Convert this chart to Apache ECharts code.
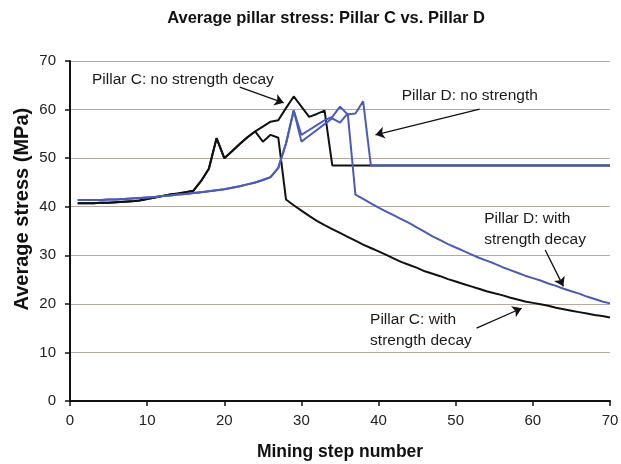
<!DOCTYPE html>
<html>
<head>
<meta charset="utf-8">
<script src="https://cdn.jsdelivr.net/npm/echarts@6/dist/echarts.min.js"></script>
<style>
  html, body { margin: 0; padding: 0; background: #ffffff; }
  #chart { width: 621px; height: 464px; }
</style>
</head>
<body>
<div id="chart"></div>
<script>
// Mining steps (x values)
const steps = [1,2,3,4,5,6,7,8,9,10,11,12,13,14,15,16,17,18,19,20,
  21,22,23,24,25,26,27,28,29,30,31,32,33,34,35,36,37,38,39,40,
  41,42,43,44,45,46,47,48,49,50,51,52,53,54,55,56,57,58,59,60,
  61,62,63,64,65,66,67,68,69,70];

// Pillar C, steps 1-24 (common to both runs)
const pillarCShared = [40.7,40.7,40.7,40.8,40.8,40.9,41.0,41.1,41.3,41.6,41.9,42.2,
  42.5,42.7,43.0,43.3,45.3,47.8,54.1,50.0,51.4,52.9,54.3,55.5];
// Pillar C, steps 25-70, no strength decay
const pillarCNoDecayTail = [56.5,57.5,57.8,60.3,62.7,60.6,58.5,59.1,59.8,
  48.5,48.5,48.5,48.5,48.5,48.5,48.5,48.5,48.5,48.5,48.5,48.5,48.5,48.5,48.5,48.5,
  48.5,48.5,48.5,48.5,48.5,48.5,48.5,48.5,48.5,48.5,48.5,48.5,48.5,48.5,48.5,48.5,
  48.5,48.5,48.5,48.5,48.5];
// Pillar C, steps 25-70, with strength decay
const pillarCDecayTail = [53.4,54.8,54.2,41.5,40.3,39.2,38.1,37.1,36.2,35.4,34.6,33.8,
  33.0,32.2,31.5,30.8,30.1,29.3,28.6,28.0,27.4,26.7,26.2,25.7,25.1,24.6,24.1,23.6,
  23.1,22.6,22.2,21.8,21.3,20.9,20.5,20.2,19.9,19.6,19.2,18.9,18.6,18.3,18.0,17.7,
  17.5,17.2];

// Pillar D, steps 1-29 (common to both runs)
const pillarDShared = [41.4,41.4,41.4,41.4,41.5,41.5,41.6,41.7,41.8,41.9,42.0,42.2,
  42.3,42.5,42.6,42.8,43.0,43.2,43.4,43.6,43.9,44.2,44.6,45.0,45.5,46.1,48.0,53.0,59.8];
// Pillar D, steps 30-70, no strength decay
const pillarDNoDecayTail = [54.8,55.8,56.8,57.8,58.5,60.6,59.0,59.2,61.7,
  48.5,48.5,48.5,48.5,48.5,48.5,48.5,48.5,48.5,48.5,48.5,48.5,48.5,48.5,48.5,48.5,
  48.5,48.5,48.5,48.5,48.5,48.5,48.5,48.5,48.5,48.5,48.5,48.5,48.5,48.5,48.5,48.5];
// Pillar D, steps 30-70, with strength decay
const pillarDDecayTail = [53.4,54.6,55.8,57.0,58.2,57.3,59.2,
  42.5,41.6,40.7,39.8,39.0,38.2,37.4,36.6,35.7,34.8,
  33.9,33.1,32.3,31.6,30.9,30.2,29.5,28.9,28.3,27.6,
  27.0,26.4,25.8,25.3,24.8,24.2,23.7,23.1,22.6,22.1,
  21.5,21.0,20.5,20.1];

const xTicks = [0,10,20,30,40,50,60,70];
const yTicks = [0,10,20,30,40,50,60,70];

const pillarCNoDecay = pillarCShared.concat(pillarCNoDecayTail);
const pillarCDecay = pillarCShared.concat(pillarCDecayTail);
const pillarDNoDecay = pillarDShared.concat(pillarDNoDecayTail);
const pillarDDecay = pillarDShared.concat(pillarDDecayTail);

const pairs = vals => steps.map((s, i) => [s, vals[i]]);

const FONT = "'Liberation Sans', Arial, Helvetica, sans-serif";
const BLACK = '#111111';
const BLUE = '#4a5bb8';

// Callout texts (anchored at their top-left corner, in axis units) and arrows
const callouts = [
  { text: 'Pillar C: no strength decay', at: [2.85, 68.4], from: [22.0, 64.6], to: [27.7, 61.4] },
  { text: 'Pillar D: no strength', at: [43.0, 65.1], from: [53.1, 60.1], to: [39.6, 54.8] },
  { text: 'Pillar D: with\nstrength decay', at: [53.7, 39.6], from: [61.6, 31.1], to: [63.95, 23.6] },
  { text: 'Pillar C: with\nstrength decay', at: [38.9, 18.8], from: [52.7, 15.0], to: [58.55, 19.1] }
];

const chart = echarts.init(document.getElementById('chart'), null, { renderer: 'canvas' });

function lineSeries(name, vals, color, z, extra) {
  return Object.assign({
    name: name,
    type: 'line',
    data: pairs(vals),
    showSymbol: false,
    symbol: 'none',
    smooth: false,
    z: z,
    lineStyle: { color: color, width: 2 },
    itemStyle: { color: color },
    animation: false
  }, extra || {});
}

const option = {
  backgroundColor: '#ffffff',
  animation: false,
  title: {
    text: 'Average pillar stress: Pillar C vs. Pillar D',
    left: 321,
    top: 5,
    textAlign: 'center',
    textStyle: { fontFamily: FONT, fontSize: 16.5, fontWeight: 'bold', color: '#111' }
  },
  grid: { left: 70, right: 11, top: 61, bottom: 63, containLabel: false, outerBoundsMode: 'none' },
  xAxis: {
    type: 'value',
    min: xTicks[0],
    max: xTicks[xTicks.length - 1],
    interval: xTicks[1] - xTicks[0],
    name: 'Mining step number',
    nameLocation: 'middle',
    nameGap: 42,
    nameTextStyle: { fontFamily: FONT, fontSize: 17.5, fontWeight: 'bold', color: '#111' },
    axisLine: { show: true, onZero: false, lineStyle: { color: '#111', width: 2 } },
    axisTick: { show: true, length: 5, lineStyle: { color: '#111', width: 1.5 } },
    axisLabel: { fontFamily: FONT, fontSize: 15, color: '#222', margin: 12 },
    splitLine: { show: false }
  },
  yAxis: {
    type: 'value',
    min: yTicks[0],
    max: yTicks[yTicks.length - 1],
    interval: yTicks[1] - yTicks[0],
    axisLine: { show: true, onZero: false, lineStyle: { color: '#111', width: 2 } },
    axisTick: { show: true, length: 5, lineStyle: { color: '#111', width: 1.5 } },
    axisLabel: { fontFamily: FONT, fontSize: 15, color: '#222', margin: 14 },
    splitLine: { show: true, lineStyle: { color: '#b5aaa2', width: 1.2 } }
  },
  series: [
    lineSeries('Pillar C: no strength decay', pillarCNoDecay, BLACK, 2, {
      markLine: {
        silent: true,
        animation: false,
        symbol: ['none', 'arrow'],
        symbolSize: 9,
        label: { show: false },
        lineStyle: { color: BLACK, width: 1.3, type: 'solid' },
        emphasis: { disabled: true },
        data: callouts.map(c => [{ coord: c.from }, { coord: c.to }])
      }
    }),
    lineSeries('Pillar C: with strength decay', pillarCDecay, BLACK, 2),
    lineSeries('Pillar D: no strength decay', pillarDNoDecay, BLUE, 3),
    lineSeries('Pillar D: with strength decay', pillarDDecay, BLUE, 3)
  ]
};

chart.setOption(option);

// Y-axis title, centred beside the value axis
const yTitleAnchor = chart.convertToPixel({ gridIndex: 0 }, [0, 39.5]);

// Place callout texts at their axis-unit anchors
chart.setOption({
  graphic: [{
    type: 'text',
    x: 22,
    y: yTitleAnchor[1],
    rotation: Math.PI / 2,
    silent: true,
    style: {
      text: 'Average stress (MPa)',
      fontFamily: FONT,
      fontSize: 20,
      fontWeight: 'bold',
      fill: '#111',
      align: 'center',
      verticalAlign: 'middle'
    }
  }].concat(callouts.map(c => {
    const p = chart.convertToPixel({ gridIndex: 0 }, c.at);
    return {
      type: 'text',
      left: p[0],
      top: p[1],
      silent: true,
      z: 10,
      style: {
        text: c.text,
        fontFamily: FONT,
        fontSize: 15.5,
        lineHeight: 21,
        fill: '#1a1a1a'
      }
    };
  }))
});
</script>
</body>
</html>
